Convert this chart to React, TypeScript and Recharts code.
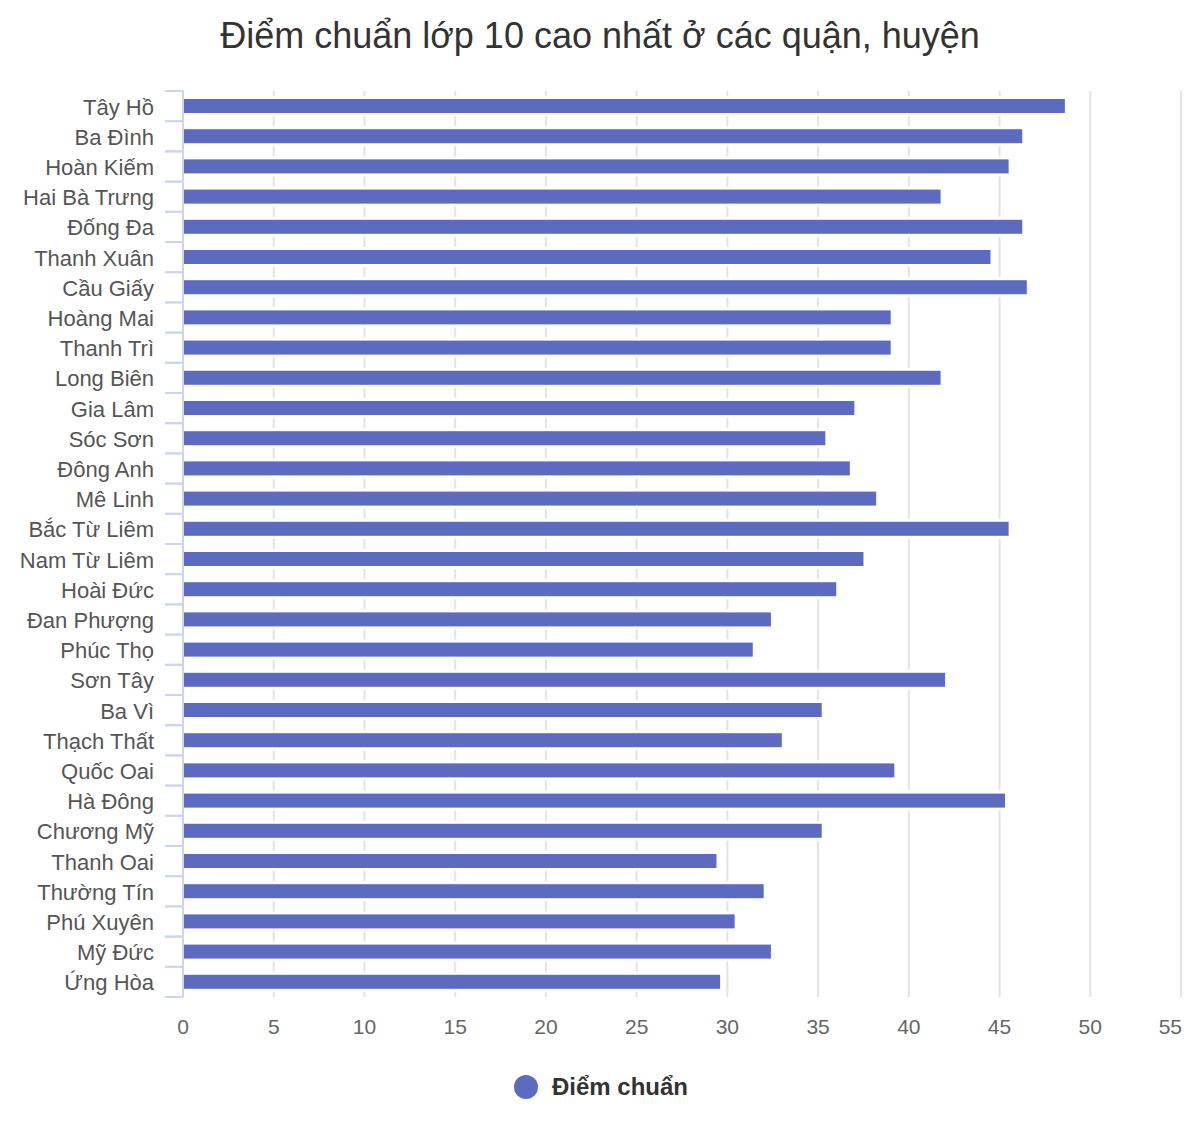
import { BarChart, Bar, XAxis, YAxis, CartesianGrid } from 'recharts';

const districts = [
  'Tây Hồ', 'Ba Đình', 'Hoàn Kiếm', 'Hai Bà Trưng', 'Đống Đa', 'Thanh Xuân', 'Cầu Giấy',
  'Hoàng Mai', 'Thanh Trì', 'Long Biên', 'Gia Lâm', 'Sóc Sơn', 'Đông Anh', 'Mê Linh',
  'Bắc Từ Liêm', 'Nam Từ Liêm', 'Hoài Đức', 'Đan Phượng', 'Phúc Thọ', 'Sơn Tây', 'Ba Vì',
  'Thạch Thất', 'Quốc Oai', 'Hà Đông', 'Chương Mỹ', 'Thanh Oai', 'Thường Tín', 'Phú Xuyên',
  'Mỹ Đức', 'Ứng Hòa',
];

const scores = [
  48.6, 46.25, 45.5, 41.75, 46.25, 44.5, 46.5,
  39, 39, 41.75, 37, 35.4, 36.75, 38.2,
  45.5, 37.5, 36, 32.4, 31.4, 42, 35.2,
  33, 39.2, 45.3, 35.2, 29.4, 32, 30.4,
  32.4, 29.6,
];

const xTicks = [0, 5, 10, 15, 20, 25, 30, 35, 40, 45, 50, 55];

const data = districts.map((name, i) => ({ name, score: scores[i] }));

const BAR_COLOR = '#5c6bc0';
const AXIS_COLOR = '#ccd6eb';
const FONT = '"Liberation Sans", Arial, sans-serif';

// bar with a white border, so the grid lines stop a little short of it
function BorderedBar(props: any) {
  const { x, y, width, height, fill } = props;
  return (
    <g>
      <rect x={x} y={y - 3} width={width + 3} height={height + 6} fill="#ffffff" />
      <rect x={x} y={y} width={width} height={height} fill={fill} />
    </g>
  );
}

// category label plus tick marks on the band edges
function CategoryTick(props: any) {
  const { x, y, payload } = props;
  const half = 15.1;
  return (
    <g>
      <line x1={x - 18} x2={x} y1={y - half} y2={y - half} stroke={AXIS_COLOR} strokeWidth={2} />
      <line x1={x - 18} x2={x} y1={y + half} y2={y + half} stroke={AXIS_COLOR} strokeWidth={2} />
      <text
        x={x - 29}
        y={y}
        dy={1}
        textAnchor="end"
        dominantBaseline="central"
        fontSize={22}
        fill="#555555"
        fontFamily={FONT}
      >
        {payload.value}
      </text>
    </g>
  );
}

// last value label is pulled inside the chart, like the original
function ValueTick(props: any) {
  const { x, y, payload } = props;
  const last = payload.value === xTicks[xTicks.length - 1];
  return (
    <text
      x={last ? x + 1 : x}
      y={y}
      dy={15}
      textAnchor={last ? 'end' : 'middle'}
      fontSize={21}
      fill="#666666"
      fontFamily={FONT}
    >
      {payload.value}
    </text>
  );
}

export default function App() {
  return (
    <div style={{ position: 'relative', width: 1184, height: 1126, fontFamily: FONT, background: '#fff' }}>
      <div
        style={{
          position: 'absolute',
          top: 7,
          left: 0,
          width: 1184,
          textAlign: 'center',
          fontSize: 36,
          lineHeight: '42px',
          color: '#333333',
        }}
      >
        Điểm chuẩn lớp 10 cao nhất ở các quận, huyện
      </div>
      <BarChart
        width={1184}
        height={1126}
        data={data}
        layout="vertical"
        barCategoryGap={0}
        margin={{ top: 83, right: 11, bottom: 97, left: 0 }}
      >
        <CartesianGrid horizontal={false} stroke="#e3e3e3" strokeWidth={2} />
        <XAxis
          type="number"
          domain={[0, 55]}
          ticks={xTicks}
          axisLine={false}
          tickLine={false}
          tickSize={0}
          tickMargin={22}
          height={40}
          tick={<ValueTick />}
        />
        <YAxis
          type="category"
          dataKey="name"
          width={175}
          axisLine={{ stroke: AXIS_COLOR, strokeWidth: 2 }}
          tickLine={false}
          tickSize={0}
          tickMargin={0}
          interval={0}
          tick={<CategoryTick />}
        />
        <Bar
          dataKey="score"
          name="Điểm chuẩn"
          fill={BAR_COLOR}
          barSize={14}
          shape={<BorderedBar />}
          isAnimationActive={false}
        />
      </BarChart>
      <div
        style={{
          position: 'absolute',
          top: 1065,
          left: 506,
          height: 28,
          display: 'flex',
          alignItems: 'center',
          gap: 14,
        }}
      >
        <div style={{ width: 24, height: 24, borderRadius: '50%', background: BAR_COLOR }} />
        <span style={{ fontSize: 24, fontWeight: 'bold', color: '#333333' }}>Điểm chuẩn</span>
      </div>
    </div>
  );
}
